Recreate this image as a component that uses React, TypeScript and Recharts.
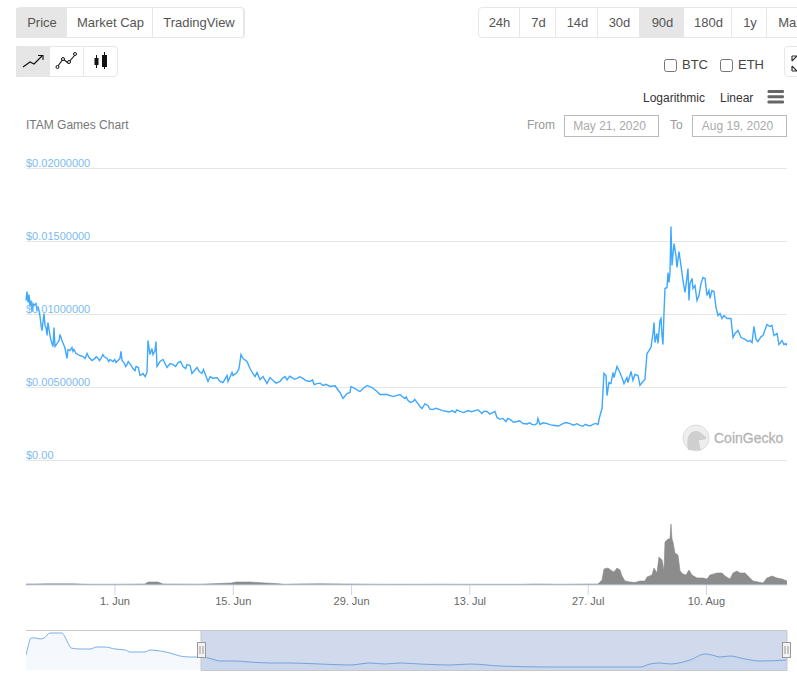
import { AreaChart, Area, LineChart, Line, XAxis, YAxis, CartesianGrid, ReferenceArea } from 'recharts';

// days since the left edge of the 90d window (May 21)
const priceDays = [
    0, 0.12, 0.24, 0.36, 0.47, 0.59, 0.71, 0.83, 0.95, 1.18, 1.3, 1.42, 1.54, 1.66, 1.78, 1.89, 2.13, 2.25, 2.37, 2.49,
    2.6, 2.84, 2.96, 3.2, 3.31, 3.43, 3.67, 3.91, 4.02, 4.26, 4.5, 4.62, 4.85, 4.97, 5.21, 5.44, 5.56, 5.68, 5.92, 6.15,
    6.39, 6.75, 6.98, 7.22, 7.46, 7.81, 8.17, 8.52, 8.88, 9.23, 9.59, 9.94, 10.3, 10.65, 10.89, 11.12, 11.24, 11.36, 11.6, 11.95,
    12.31, 12.66, 13.02, 13.49, 13.85, 14.32, 14.44, 14.67, 14.91, 15.03, 15.27, 15.38, 15.5, 15.86, 16.21, 16.69, 17.04, 17.4, 17.99, 18.58,
    19.05, 19.41, 19.64, 20.24, 20.83, 21.18, 21.54, 22.13, 22.6, 22.96, 23.31, 23.79, 23.91, 24.38, 24.5, 24.97, 25.21, 25.44, 25.68, 26.15,
    26.51, 26.86, 27.1, 27.34, 27.69, 28.05, 28.52, 28.88, 29.23, 30.06, 30.65, 31.48, 32.07, 32.78, 33.61, 34.44, 35.15, 35.98, 36.8, 37.16,
    37.51, 37.99, 38.34, 38.46, 38.93, 39.29, 39.53, 39.88, 40.36, 40.95, 41.54, 41.89, 42.72, 43.43, 44.26, 44.85, 45.21, 45.8, 46.39, 46.86,
    47.57, 48.17, 48.99, 49.82, 50.41, 50.77, 51.36, 52.31, 53.14, 53.96, 54.56, 55.27, 55.74, 56.45, 56.8, 57.28, 58.11, 58.82, 59.88, 60.47,
    60.59, 60.83, 61.66, 62.6, 63.55, 64.38, 65.56, 66.51, 67.1, 67.69, 67.93, 68.17, 68.4, 68.64, 68.76, 68.99, 69.23, 69.47, 69.59, 69.94,
    70.18, 70.53, 70.77, 71.12, 71.24, 71.6, 71.83, 72.07, 72.43, 72.66, 73.02, 73.25, 73.49, 73.73, 73.96, 74.2, 74.32, 74.44, 74.67, 74.79,
    75.03, 75.15, 75.27, 75.38, 75.5, 75.62, 75.86, 75.98, 76.09, 76.21, 76.33, 76.45, 76.69, 76.92, 77.04, 77.28, 77.51, 77.75, 77.99, 78.11,
    78.34, 78.46, 78.58, 78.82, 78.93, 79.17, 79.41, 79.64, 79.88, 80.12, 80.36, 80.59, 80.83, 80.95, 81.18, 81.42, 81.66, 81.89, 82.13, 82.37,
    82.6, 82.96, 83.43, 83.67, 83.91, 84.26, 84.62, 84.85, 85.44, 85.92, 86.15, 86.39, 86.86, 87.22, 87.69, 88.05, 88.28, 88.52, 88.88, 89.11,
    89.47, 89.7, 89.94, 90.06,
];

const priceValues = [
    0.01096, 0.01157, 0.01082, 0.01137, 0.01055, 0.01096, 0.0102, 0.01075, 0.01062, 0.01075, 0.01027, 0.01055, 0.01027, 0.00986, 0.00925, 0.0089, 0.01007, 0.00925, 0.00911, 0.00856,
    0.00945, 0.00856, 0.00822, 0.00781, 0.00911, 0.00781, 0.00801, 0.00822, 0.00863, 0.00822, 0.00788, 0.00767, 0.00699, 0.0076, 0.00753, 0.00774, 0.00747, 0.0076, 0.00733, 0.00726,
    0.00719, 0.00712, 0.00699, 0.00733, 0.00705, 0.00685, 0.00699, 0.00699, 0.00699, 0.00712, 0.00699, 0.00692, 0.00678, 0.00671, 0.00685, 0.00699, 0.00747, 0.00685, 0.00671, 0.00657,
    0.00664, 0.0063, 0.00644, 0.00582, 0.00596, 0.00603, 0.00822, 0.00726, 0.00767, 0.00726, 0.00753, 0.00815, 0.00644, 0.00678, 0.00692, 0.00637, 0.00664, 0.00657, 0.00671, 0.00644,
    0.00657, 0.00651, 0.00596, 0.00637, 0.00596, 0.00596, 0.00541, 0.00562, 0.00568, 0.00541, 0.00534, 0.00582, 0.00541, 0.00603, 0.00582, 0.00603, 0.0063, 0.00726, 0.00699, 0.00678,
    0.0063, 0.00596, 0.00575, 0.00603, 0.00555, 0.00575, 0.00527, 0.00568, 0.00548, 0.00541, 0.00575, 0.00568, 0.00562, 0.00562, 0.00541, 0.00527, 0.00514, 0.00507, 0.00493, 0.00466,
    0.00425, 0.00459, 0.00466, 0.00507, 0.00493, 0.00479, 0.00473, 0.00493, 0.00514, 0.005, 0.00473, 0.00452, 0.00452, 0.00438, 0.00452, 0.00425, 0.00411, 0.00404, 0.0039, 0.00356,
    0.00377, 0.00349, 0.00349, 0.00336, 0.00342, 0.00329, 0.00336, 0.00342, 0.00342, 0.00322, 0.00336, 0.00329, 0.00295, 0.00288, 0.00267, 0.00281, 0.00267, 0.00253, 0.00247, 0.00253,
    0.00288, 0.00247, 0.00253, 0.0024, 0.00253, 0.00253, 0.0024, 0.0024, 0.00247, 0.00247, 0.00308, 0.00356, 0.00596, 0.00582, 0.00445, 0.00534, 0.00527, 0.00603, 0.00568, 0.00644,
    0.00616, 0.00568, 0.00527, 0.00568, 0.00534, 0.0061, 0.00548, 0.00589, 0.00582, 0.00514, 0.00541, 0.00555, 0.00733, 0.00753, 0.00774, 0.0087, 0.00945, 0.00808, 0.0087, 0.00801,
    0.00959, 0.00973, 0.00856, 0.00794, 0.01007, 0.01178, 0.01185, 0.01288, 0.01219, 0.01281, 0.01603, 0.01336, 0.01486, 0.01404, 0.01322, 0.01431, 0.01336, 0.01233, 0.01151, 0.01199,
    0.01315, 0.01096, 0.01212, 0.01247, 0.01178, 0.01199, 0.01096, 0.0113, 0.01212, 0.01253, 0.01247, 0.0113, 0.01164, 0.0111, 0.01164, 0.01157, 0.01048, 0.00993, 0.01007, 0.00973,
    0.00993, 0.00973, 0.00973, 0.00842, 0.0087, 0.0089, 0.00842, 0.00836, 0.00815, 0.00808, 0.00918, 0.00829, 0.00836, 0.00856, 0.00931, 0.00918, 0.00925, 0.00856, 0.0087, 0.00794,
    0.00822, 0.00794, 0.00801, 0.00788,
];

// small wobbles of the flatter stretches, read separately
const priceWobbleDays = [
    8.3, 8.7, 9.1, 9.8, 10.5, 11.8, 12.1, 12.9, 13.3, 13.7, 14.1, 17.7, 18.3, 18.9, 20.5, 21, 21.8, 28.7, 29.6, 30.3,
    30.9, 31.2, 31.8, 32.4, 33.1, 33.9, 34.1, 34.8, 35.5, 36.3, 36.6, 44.5, 45, 45.5, 46, 46.6, 47.2, 47.8, 48.5, 49.3,
    50.1, 51, 51.8, 52.7, 53.5, 54.2, 54.9, 55.5, 56.1, 57, 57.7, 58.4, 59.3, 59.6, 60.2, 61.2, 62.1, 63, 63.9, 64.8,
    65.2, 65.9, 66.2, 66.8, 67.4, 85.1, 85.7, 86.6, 87,
];

const priceWobbleValues = [
    0.00712, 0.00685, 0.00726, 0.00678, 0.00692, 0.00644, 0.00678, 0.00616, 0.00637, 0.00589, 0.00575, 0.00644, 0.00678, 0.0063, 0.0061, 0.00623, 0.00575, 0.00548, 0.0053, 0.0056,
    0.00552, 0.00578, 0.00556, 0.00574, 0.00548, 0.00552, 0.0052, 0.0053, 0.00522, 0.0051, 0.00512, 0.00438, 0.00436, 0.00398, 0.00418, 0.00372, 0.00388, 0.00352, 0.00358, 0.00342,
    0.00332, 0.00346, 0.00328, 0.00334, 0.00348, 0.00338, 0.00318, 0.00336, 0.00282, 0.00288, 0.00262, 0.00272, 0.0025, 0.00258, 0.00244, 0.00258, 0.00244, 0.00236, 0.0026, 0.00242,
    0.00252, 0.00234, 0.00248, 0.00238, 0.00254, 0.0083, 0.00822, 0.00815, 0.00849,
];

const volumeDays = [
    0, 1.18, 2.49, 5.44, 7.57, 12.31, 14.08, 14.44, 15.62, 16.21, 20.59, 24.38, 24.85, 26.51, 28.28, 29.47, 30.65, 31.83, 34.79, 37.75,
    40.71, 44.26, 48.99, 53.73, 58.46, 60.47, 63.2, 67.69, 68.17, 68.4, 68.88, 69.35, 69.59, 69.94, 70.3, 70.53, 70.89, 71.48, 72.07, 72.66,
    73.25, 73.49, 74.08, 74.32, 74.67, 74.91, 75.27, 75.5, 75.62, 75.98, 76.21, 76.33, 76.45, 76.57, 76.8, 77.16, 77.4, 77.75, 78.11, 78.46,
    78.82, 79.41, 80.12, 80.59, 80.95, 81.78, 82.37, 82.72, 83.31, 83.67, 84.14, 84.5, 85.09, 85.44, 86.04, 86.63, 87.22, 87.69, 88.28, 88.88,
    89.47, 90.06,
];

const volumeValues = [
    10000, 10000, 12000, 12000, 7000, 8000, 10000, 30000, 30000, 10000, 8000, 20000, 30000, 30000, 20000, 15000, 7000, 10000, 12000, 10000,
    8000, 7000, 8000, 7000, 7000, 10000, 7000, 10000, 50000, 160000, 170000, 140000, 130000, 170000, 150000, 90000, 40000, 30000, 25000, 40000,
    40000, 80000, 100000, 170000, 120000, 280000, 250000, 140000, 430000, 460000, 460000, 610000, 460000, 430000, 320000, 300000, 140000, 110000, 100000, 150000,
    100000, 70000, 70000, 60000, 100000, 120000, 120000, 90000, 60000, 120000, 140000, 120000, 120000, 90000, 40000, 30000, 20000, 70000, 90000, 70000,
    60000, 40000,
];

// days since May 1, the navigator shows the whole history
const navigatorDays = [
    -6.08, -5.78, -5.32, -4.56, -3.95, -3.34, -2.43, -1.67, -0.61, -0.15, 0.3, 0.76, 2.13, 3.65, 4.71, 5.93, 7.45, 8.97, 9.73, 12,
    12.77, 14.29, 15.8, 17.33, 18.84, 20.52, 22.19, 23.4, 25.68, 27.96, 31, 34.04, 38.6, 43.16, 46.2, 48.48, 50.76, 53.8, 58.36, 61.4,
    65.96, 73.56, 81.16, 87.24, 88.75, 90.27, 91.8, 94.83, 97.11, 98.18, 99.39, 100.91, 103.19, 105.47, 109.57,
];

const navigatorValues = [
    0.015, 0.023, 0.032, 0.032, 0.031, 0.032, 0.037, 0.037, 0.037, 0.033, 0.027, 0.022, 0.021, 0.021, 0.023, 0.023, 0.021, 0.02, 0.018, 0.018,
    0.02, 0.019, 0.017, 0.014, 0.013, 0.013, 0.011, 0.009, 0.009, 0.008, 0.007, 0.007, 0.006, 0.005, 0.007, 0.006, 0.007, 0.006, 0.005, 0.006,
    0.004, 0.003, 0.003, 0.003, 0.006, 0.007, 0.006, 0.01, 0.016, 0.015, 0.013, 0.014, 0.011, 0.009, 0.01,
];

const priceTicks = [0, 0.005, 0.01, 0.015, 0.02];
const dayTicks = [10.53, 24.53, 38.53, 52.53, 66.53, 80.53];
const dayTickLabels = ['1. Jun', '15. Jun', '29. Jun', '13. Jul', '27. Jul', '10. Aug'];
const navigatorTicks = [0, 31, 61, 92];
const navigatorTickLabels = ["May '20", "Jun '20", "Jul '20", "Aug '20"];

const chartTabs = [
    { label: 'Price', left: 16, width: 51, active: true },
    { label: 'Market Cap', left: 67, width: 86 },
    { label: 'TradingView', left: 153, width: 91 },
];

const rangeTabs = [
    { label: '24h', left: 478, width: 42 },
    { label: '7d', left: 520, width: 36 },
    { label: '14d', left: 556, width: 42 },
    { label: '30d', left: 598, width: 42 },
    { label: '90d', left: 640, width: 44, active: true },
    { label: '180d', left: 684, width: 48 },
    { label: '1y', left: 732, width: 35 },
    { label: 'Max', left: 767, width: 46 },
];

const FONT = '"Liberation Sans", Arial, sans-serif';

const priceData = [
    ...priceDays.map((day, i) => ({ day, price: priceValues[i] })),
    ...priceWobbleDays.map((day, i) => ({ day, price: priceWobbleValues[i] })),
].sort((a, b) => a.day - b.day);
const volumeData = volumeDays.map((day, i) => ({ day, volume: volumeValues[i] }));
const navigatorData = navigatorDays.map((day, i) => ({ day, price: navigatorValues[i] }));

function PriceTick({ y, payload }: any) {
    const label = payload.value === 0 ? '$0.00' : `$${payload.value.toFixed(8)}`;
    return (
        <text x={1} y={y - 2} fontSize={11} fontFamily={FONT} fill="#7dbcf0">
            {label}
        </text>
    );
}

function NavigatorTick({ x, y, payload }: any) {
    const label = navigatorTickLabels[navigatorTicks.indexOf(payload.value)];
    return (
        <g>
            <line x1={x} x2={x} y1={y - 40} y2={y} stroke="#d5dae4" />
            <text x={x + 4} y={y - 4} fontSize={11} fontFamily={FONT} fill="#999999">
                {label}
            </text>
        </g>
    );
}

function Tab({ label, left, width, active, top }: any) {
    return (
        <div
            style={{
                position: 'absolute',
                left,
                top,
                width,
                height: 30,
                lineHeight: '30px',
                paddingLeft: 2,
                textAlign: 'center',
                fontSize: 13,
                color: '#555',
                background: active ? '#e6e6e6' : '#fff',
                borderRight: '1px solid #e7e7e7',
                boxSizing: 'border-box',
            }}
        >
            {label}
        </div>
    );
}

function Label({ left, top, color, size = 12, children }: any) {
    return (
        <div style={{ position: 'absolute', left, top, fontSize: size, color, lineHeight: '14px', whiteSpace: 'nowrap' }}>
            {children}
        </div>
    );
}

function DateBox({ left, width, children }: any) {
    return (
        <div
            style={{
                position: 'absolute',
                left,
                top: 115,
                width,
                height: 22,
                lineHeight: '20px',
                paddingRight: 4,
                border: '1px solid #bbb',
                boxSizing: 'border-box',
                textAlign: 'center',
                fontSize: 12,
                color: '#aaa',
            }}
        >
            {children}
        </div>
    );
}

function Handle({ x }: { x: number }) {
    return (
        <g>
            <rect x={x - 4} y={642.5} width={8} height={15} fill="#f2f2f2" stroke="#999" />
            <line x1={x - 1.5} x2={x - 1.5} y1={646} y2={654} stroke="#999" />
            <line x1={x + 1.5} x2={x + 1.5} y1={646} y2={654} stroke="#999" />
        </g>
    );
}

export default function App() {
    return (
        <div
            style={{
                position: 'absolute',
                left: 0,
                top: 0,
                width: 797,
                height: 684,
                overflow: 'hidden',
                background: '#fff',
                fontFamily: FONT,
            }}
        >
            {/* tab groups */}
            {chartTabs.map((t) => (
                <Tab key={t.label} {...t} top={8} />
            ))}
            <div style={{ position: 'absolute', left: 16, top: 7, width: 229, height: 31, border: '1px solid #e7e7e7', borderRadius: 4, boxSizing: 'border-box' }} />
            {rangeTabs.map((t) => (
                <Tab key={t.label} {...t} top={8} />
            ))}
            <div style={{ position: 'absolute', left: 478, top: 7, width: 340, height: 31, border: '1px solid #e7e7e7', borderRadius: 4, boxSizing: 'border-box' }} />

            <div style={{ position: 'absolute', left: 16, top: 46, width: 34, height: 31, background: '#e6e6e6' }} />
            <div style={{ position: 'absolute', left: 16, top: 46, width: 102, height: 31, border: '1px solid #e7e7e7', borderRadius: 4, boxSizing: 'border-box' }} />
            <div style={{ position: 'absolute', left: 83, top: 46, width: 1, height: 31, background: '#e7e7e7' }} />
            <div style={{ position: 'absolute', left: 784, top: 46, width: 40, height: 31, border: '1px solid #e7e7e7', borderRadius: 4, boxSizing: 'border-box' }} />

            <input type="checkbox" style={{ position: 'absolute', left: 664, top: 59, width: 13, height: 13, margin: 0 }} />
            <Label left={682} top={58} color="#444" size={13}>BTC</Label>
            <input type="checkbox" style={{ position: 'absolute', left: 720, top: 59, width: 13, height: 13, margin: 0 }} />
            <Label left={738} top={58} color="#444" size={13}>ETH</Label>

            <Label left={643} top={91} color="#333">Logarithmic</Label>
            <Label left={720} top={91} color="#333">Linear</Label>

            <Label left={26} top={118} color="#777">ITAM Games Chart</Label>
            <Label left={527} top={118} color="#999">From</Label>
            <DateBox left={564} width={95}>May 21, 2020</DateBox>
            <Label left={670} top={118} color="#999">To</Label>
            <DateBox left={692} width={95}>Aug 19, 2020</DateBox>

            {/* price */}
            <div style={{ position: 'absolute', left: 25, top: 156 }}>
                <LineChart width={762} height={307} data={priceData} margin={{ top: 12.5, right: 0, bottom: 2.5, left: 0 }}>
                    <CartesianGrid vertical={false} stroke="#e6e6e6" />
                    <XAxis dataKey="day" type="number" domain={[0, 90.06]} hide />
                    <YAxis
                        domain={[0, 0.02]}
                        ticks={priceTicks}
                        width={1}
                        axisLine={false}
                        tickLine={false}
                        interval={0}
                        tick={<PriceTick />}
                    />
                    <Line
                        type="linear"
                        dataKey="price"
                        stroke="#3ea8ff"
                        strokeWidth={1.4}
                        dot={false}
                        isAnimationActive={false}
                    />
                </LineChart>
            </div>

            {/* volume and date axis */}
            <div style={{ position: 'absolute', left: 26, top: 520 }}>
                <AreaChart width={761} height={95} data={volumeData} margin={{ top: 0, right: 0, bottom: 0, left: 0 }}>
                    <XAxis
                        dataKey="day"
                        type="number"
                        domain={[0, 90.06]}
                        ticks={dayTicks}
                        interval={0}
                        height={30}
                        tickSize={10}
                        stroke="#ccd6eb"
                        tick={{ fontSize: 11, fontFamily: FONT, fill: '#666666' }}
                        tickFormatter={(v: number) => dayTickLabels[dayTicks.indexOf(v)]}
                    />
                    <YAxis domain={[0, 650000]} hide />
                    <Area
                        type="linear"
                        dataKey="volume"
                        stroke="#888888"
                        strokeWidth={0.6}
                        fill="#8c8c8c"
                        fillOpacity={1}
                        isAnimationActive={false}
                    />
                </AreaChart>
            </div>

            {/* navigator */}
            <div style={{ position: 'absolute', left: 26, top: 630 }}>
                <AreaChart width={761} height={41} data={navigatorData} margin={{ top: 0, right: 0, bottom: 1, left: 0 }}>
                    <XAxis
                        dataKey="day"
                        type="number"
                        domain={[-6.08, 109.57]}
                        ticks={navigatorTicks}
                        interval={0}
                        height={0}
                        axisLine={false}
                        tickLine={false}
                        tick={<NavigatorTick />}
                    />
                    <YAxis domain={[0, 0.04]} hide />
                    <Area
                        type="monotone"
                        dataKey="price"
                        stroke="#7cb0e8"
                        strokeWidth={1}
                        fill="#7cb5ec"
                        fillOpacity={0.08}
                        isAnimationActive={false}
                    />
                    <ReferenceArea x1={20.52} x2={109.57} fill="#6685c2" fillOpacity={0.3} stroke="none" />
                </AreaChart>
            </div>

            {/* icons, watermark and navigator frame */}
            <svg width={797} height={684} style={{ position: 'absolute', left: 0, top: 0, pointerEvents: 'none' }}>
                <path d="M23 67 L30 62 L34 64 L42 56 M38 55.5 L43 55.5 L43 60" fill="none" stroke="#111" strokeWidth={1.1} />
                <path d="M58 66 L63 59 L68 63 L75 55" fill="none" stroke="#111" strokeWidth={1.1} />
                <circle cx={57.5} cy={67} r={1.5} fill="#fff" stroke="#111" />
                <circle cx={63} cy={59} r={1.5} fill="#fff" stroke="#111" />
                <circle cx={69} cy={62} r={1.5} fill="#fff" stroke="#111" />
                <circle cx={75} cy={54} r={1.5} fill="#fff" stroke="#111" />
                <path d="M96.5 55 V68 M104.5 52 V69" stroke="#111" />
                <rect x={94.5} y={58} width={4} height={7} fill="#111" />
                <rect x={102} y={55} width={5} height={12} fill="#111" />
                <path d="M792 56 V61 M792 56 H797 M792 61 L797 56 M792 71 V66 M792 71 H797 M792 66 L797 71" stroke="#333" strokeWidth={1.2} fill="none" />

                <rect x={767.5} y={90} width={16.5} height={3} rx={1.2} fill="#666" />
                <rect x={767.5} y={95.2} width={16.5} height={3} rx={1.2} fill="#666" />
                <rect x={767.5} y={100.4} width={16.5} height={3} rx={1.2} fill="#666" />

                <circle cx={696} cy={438} r={13} fill="#eeeeee" stroke="#dcdcdc" strokeWidth={1} />
                <path d="M688 450 C686 440 688 431 696 431 C700 431 702 434 706 437 C707 440 702 440 699 440 C699 444 700 447 701 450 Z" fill="#cfcfcf" />
                <text x={714} y={443} fontSize={14} fontFamily={FONT} fill="#b4b4b4" stroke="#b4b4b4" strokeWidth={0.3}>
                    CoinGecko
                </text>

                <path d="M26 630.5 H787 M201 670.5 H787 M787 630.5 V670.5 M201 630.5 V670.5" stroke="#c8c8c8" fill="none" />
                <Handle x={201.5} />
                <Handle x={786.5} />
            </svg>
        </div>
    );
}
